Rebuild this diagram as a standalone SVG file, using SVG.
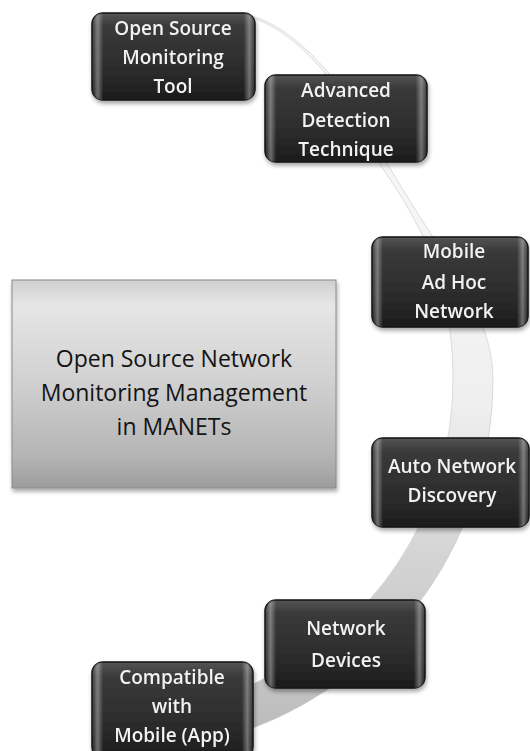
<svg xmlns="http://www.w3.org/2000/svg" width="530" height="751" viewBox="0 0 530 751">
<defs>
<style>
.nt{font-family:"Open Sans","Liberation Sans",sans-serif;font-size:19px;font-weight:600;fill:#f2f2f2;text-anchor:middle;}
.ct{font-family:"Open Sans","Liberation Sans",sans-serif;font-size:23px;fill:#141414;text-anchor:middle;}
.nb{fill:url(#nodeV);stroke:#151515;stroke-width:1.5;}
.ng{fill:url(#nodeH);}
</style>
<linearGradient id="nodeV" x1="0" y1="0" x2="0" y2="1">
<stop offset="0" stop-color="#555"/>
<stop offset="0.15" stop-color="#3a3a3a"/>
<stop offset="0.7" stop-color="#2a2a2a"/>
<stop offset="1" stop-color="#1b1b1b"/>
</linearGradient>
<linearGradient id="nodeH" x1="0" y1="0" x2="1" y2="0">
<stop offset="0" stop-color="#fff" stop-opacity="0"/>
<stop offset="0.035" stop-color="#fff" stop-opacity="0.35"/>
<stop offset="0.07" stop-color="#fff" stop-opacity="0"/>
<stop offset="0.93" stop-color="#fff" stop-opacity="0"/>
<stop offset="0.965" stop-color="#fff" stop-opacity="0.35"/>
<stop offset="1" stop-color="#fff" stop-opacity="0"/>
</linearGradient>
<linearGradient id="centerG" x1="0" y1="0" x2="0" y2="1">
<stop offset="0" stop-color="#cfcfcf"/>
<stop offset="0.12" stop-color="#e6e6e6"/>
<stop offset="0.5" stop-color="#d0d0d0"/>
<stop offset="0.85" stop-color="#b4b4b4"/>
<stop offset="1" stop-color="#9c9c9c"/>
</linearGradient>
<linearGradient id="bandG" gradientUnits="userSpaceOnUse" x1="0" y1="230" x2="0" y2="730">
<stop offset="0" stop-color="#f6f6f6"/>
<stop offset="0.35" stop-color="#efefef"/>
<stop offset="0.65" stop-color="#d4d4d4"/>
<stop offset="1" stop-color="#bcbcbc"/>
</linearGradient>
<filter id="sh" x="-10%" y="-10%" width="120%" height="130%">
<feGaussianBlur in="SourceAlpha" stdDeviation="2"/>
<feOffset dx="1" dy="3" result="b"/>
<feComponentTransfer><feFuncA type="linear" slope="0.35"/></feComponentTransfer>
<feMerge><feMergeNode/><feMergeNode in="SourceGraphic"/></feMerge>
</filter>
</defs>
<rect width="530" height="751" fill="#fff"/>

<g id="connectors">
<path d="M252,16 C300,30 350,90 385,160 C400,185 415,210 435,240 C465,285 493,330 493,380 A372,372 0 0 1 253,728 L253,684 A331,331 0 0 0 453,380 C453,320 440,270 425,240 C410,210 395,185 380,165 C350,95 300,32 252,18 Z" fill="url(#bandG)" stroke="#cdcdcd" stroke-width="0.7"/>
</g>

<g id="center">
<rect x="12" y="280" width="324" height="208" fill="url(#centerG)" stroke="#8a8a8a" stroke-width="1" filter="url(#sh)"/>
<text class="ct" x="174" y="367">Open Source Network</text>
<text class="ct" x="174" y="401">Monitoring Management</text>
<text class="ct" x="174" y="435">in MANETs</text>
</g>

<g id="node1" filter="url(#sh)">
<rect class="nb" x="92" y="13" width="163" height="87" rx="11"/>
<rect class="ng" x="92" y="13" width="163" height="87" rx="11"/>
<text class="nt" x="173" y="35">Open Source</text>
<text class="nt" x="173" y="64">Monitoring</text>
<text class="nt" x="173" y="93">Tool</text>
</g>

<g id="node2" filter="url(#sh)">
<rect class="nb" x="265" y="75" width="162" height="87" rx="11"/>
<rect class="ng" x="265" y="75" width="162" height="87" rx="11"/>
<text class="nt" x="346" y="97">Advanced</text>
<text class="nt" x="346" y="127">Detection</text>
<text class="nt" x="346" y="156">Technique</text>
</g>

<g id="node3" filter="url(#sh)">
<rect class="nb" x="372" y="237" width="156" height="90" rx="11"/>
<rect class="ng" x="372" y="237" width="156" height="90" rx="11"/>
<text class="nt" x="454" y="258">Mobile</text>
<text class="nt" x="454" y="289">Ad Hoc</text>
<text class="nt" x="454" y="318">Network</text>
</g>

<g id="node4" filter="url(#sh)">
<rect class="nb" x="372" y="438" width="157" height="89" rx="11"/>
<rect class="ng" x="372" y="438" width="157" height="89" rx="11"/>
<text class="nt" x="452" y="473">Auto Network</text>
<text class="nt" x="452" y="502">Discovery</text>
</g>

<g id="node5" filter="url(#sh)">
<rect class="nb" x="265" y="600" width="160" height="88" rx="11"/>
<rect class="ng" x="265" y="600" width="160" height="88" rx="11"/>
<text class="nt" x="346" y="635">Network</text>
<text class="nt" x="346" y="667">Devices</text>
</g>

<g id="node6" filter="url(#sh)">
<rect class="nb" x="92" y="662" width="161" height="96" rx="11"/>
<rect class="ng" x="92" y="662" width="161" height="96" rx="11"/>
<text class="nt" x="172" y="684">Compatible</text>
<text class="nt" x="172" y="713">with</text>
<text class="nt" x="172" y="742">Mobile (App)</text>
</g>
</svg>
